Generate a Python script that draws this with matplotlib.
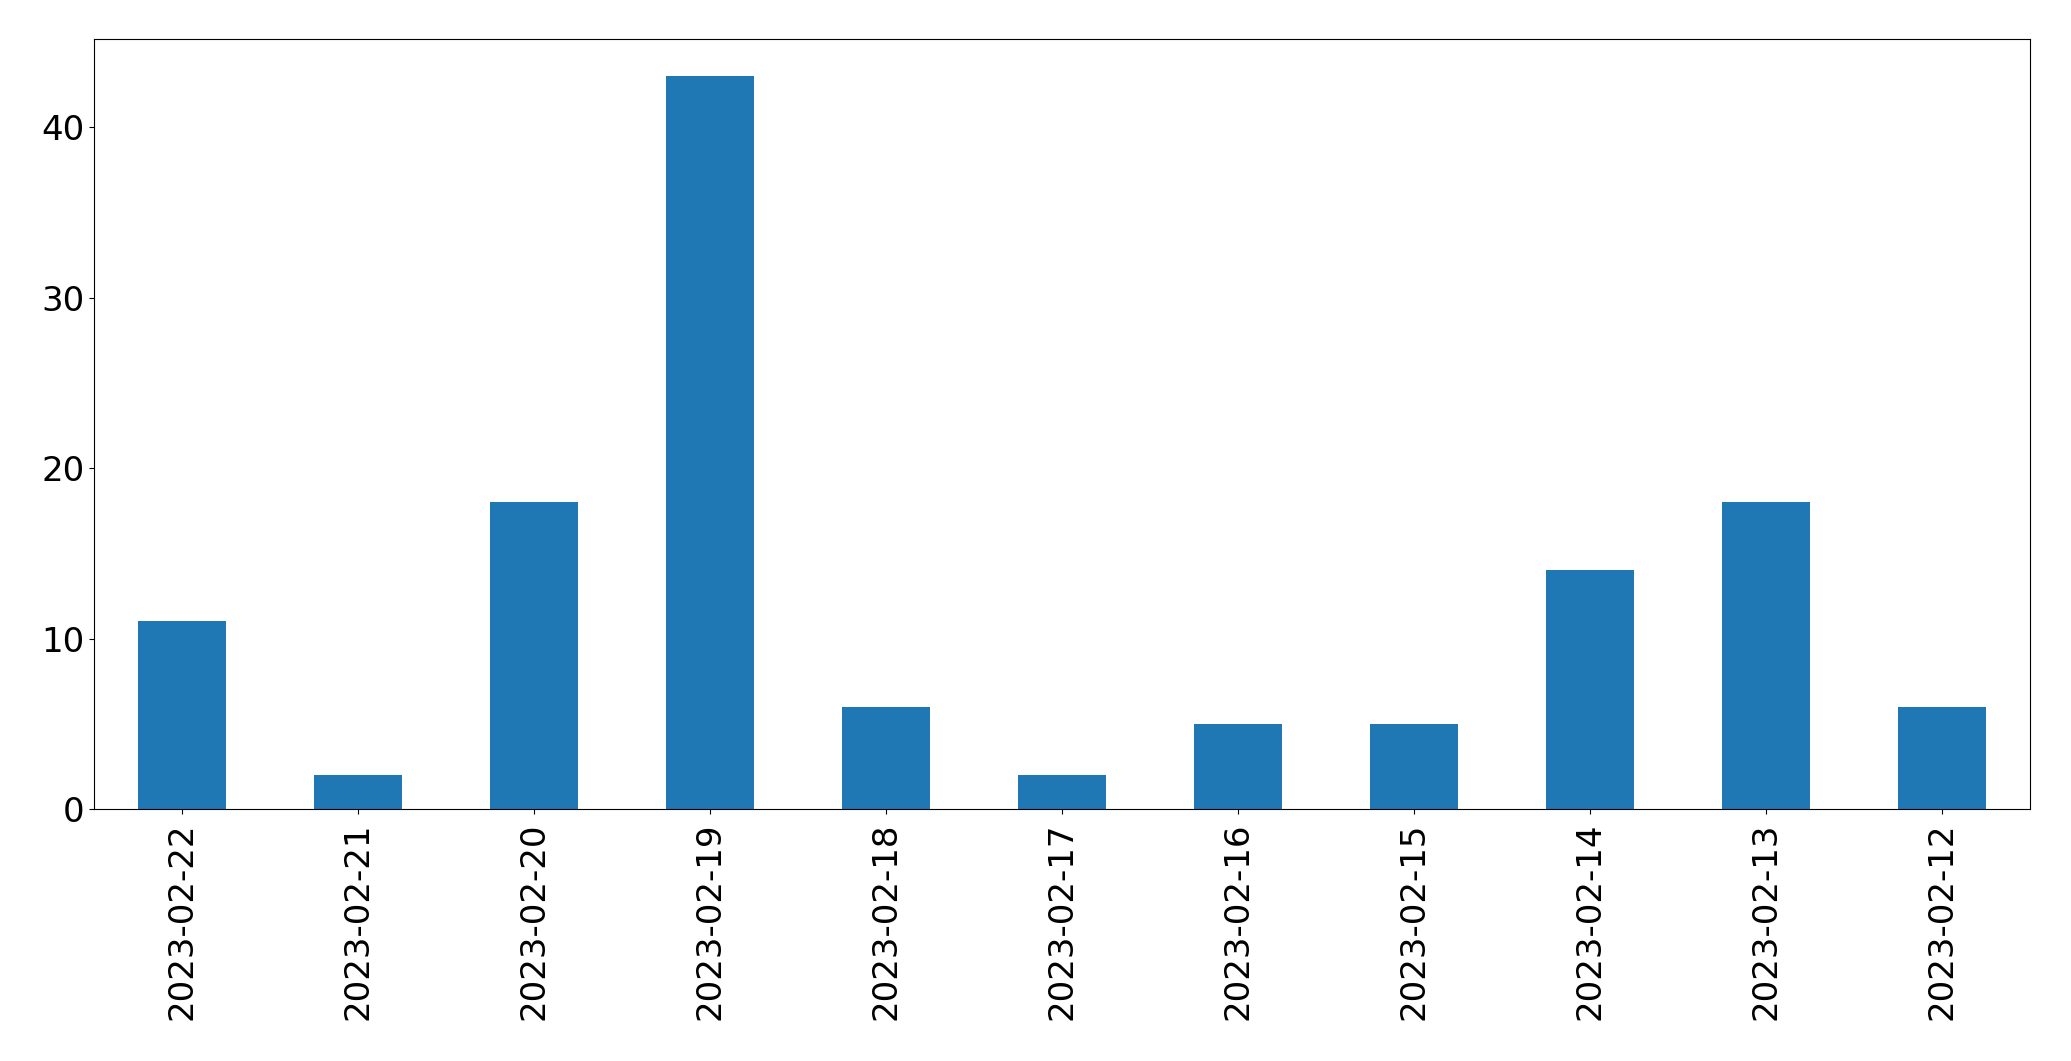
import matplotlib
matplotlib.use("Agg")
import matplotlib.pyplot as plt
import numpy as np

# daily counts, newest first
dates = ["2023-02-22", "2023-02-21", "2023-02-20", "2023-02-19", "2023-02-18",
         "2023-02-17", "2023-02-16", "2023-02-15", "2023-02-14", "2023-02-13",
         "2023-02-12"]
counts = [11, 2, 18, 43, 6, 2, 5, 5, 14, 18, 6]

fig = plt.figure(figsize=(20.71, 10.61), dpi=100)
ax = fig.add_axes([0.0454, 0.2375, 0.9346, 0.7255])

x = np.arange(len(dates))
ax.bar(x, counts, width=0.5, color="#1f77b4")
ax.set_xlim(-0.5, len(dates) - 0.5)
ax.set_ylim(0, max(counts) * 1.05)
ax.set_xticks(x)
ax.set_xticklabels(dates, rotation=90)
ax.set_yticks([0, 10, 20, 30, 40])
ax.tick_params(labelsize=24.5)
ax.tick_params(axis="x", pad=6)

fig.savefig("out.png", dpi=100)
